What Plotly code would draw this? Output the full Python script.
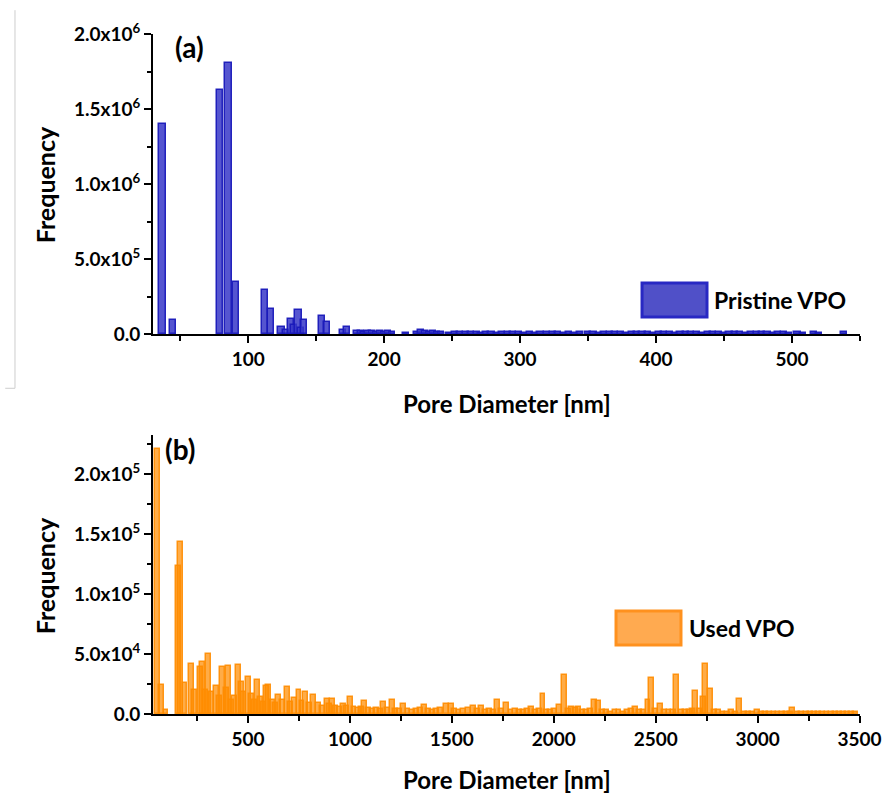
import plotly.graph_objects as go

# ---------------- DATA ----------------
# (a) Pristine VPO : pore diameter [nm] and frequency
pristine_d = [37, 45, 79, 85.5, 91, 112.5, 116.5, 124.5, 128, 131.5, 134, 137, 139, 141,
              154, 158, 170, 173,
              180, 183, 185, 188, 191, 194, 197, 200, 203, 206,
              216, 224, 227, 230, 233, 236, 239, 242,
              248, 252, 256, 260, 264, 268, 271, 275, 279, 283, 287, 291, 295, 299, 303, 307,
              311, 315, 320, 324, 328, 332, 336, 340, 344, 350, 354, 358, 362, 366, 370, 374,
              378, 382, 386, 390, 394, 398, 402, 406, 410, 414, 418, 422, 426, 430, 434, 438,
              442, 446, 450, 454, 458, 462, 466, 470, 474, 478, 482, 486, 490, 494, 498, 504,
              508, 516, 520, 538]
pristine_f = [1.40e6, 9.3e4, 1.625e6, 1.81e6, 3.5e5, 2.93e5, 1.67e5, 4.5e4, 3.0e4, 1.0e5, 6.0e4, 1.6e5, 4.0e4, 9.3e4,
              1.22e5, 8.2e4, 2.5e4, 4.7e4,
              18e3, 22e3, 15e3, 20e3, 17e3, 14e3, 20e3, 16e3, 18e3, 12e3,
              10e3, 15e3, 24e3, 18e3, 14e3, 20e3, 12e3, 16e3,
              10e3, 14e3, 12e3, 15e3, 11e3, 13e3, 9e3, 12e3, 14e3, 10e3, 13e3, 11e3, 15e3, 12e3, 10e3, 13e3,
              9e3, 12e3, 11e3, 14e3, 12e3, 10e3, 13e3, 9e3, 12e3, 11e3, 14e3, 10e3, 12e3, 15e3, 11e3, 13e3,
              10e3, 12e3, 11e3, 14e3, 12e3, 10e3, 13e3, 11e3, 12e3, 9e3, 12e3, 14e3, 11e3, 13e3, 10e3, 12e3,
              11e3, 14e3, 10e3, 12e3, 13e3, 11e3, 10e3, 12e3, 14e3, 11e3, 13e3, 10e3, 12e3, 11e3, 9e3, 12e3,
              10e3, 11e3, 9e3, 16e3]

# (b) Used VPO : pore diameter [nm] and frequency (x10^3)
used_d = [55, 76, 98, 158, 168, 191, 224, 237, 268, 276, 292, 308, 320, 346, 360, 374, 393, 406, 420, 435,
          455, 468, 480, 504, 517, 530, 545, 560, 575, 591, 602, 620, 635, 651, 670, 692, 710, 730, 750, 765,
          782, 800, 823, 845, 865, 888, 900, 913, 930, 950, 970, 985, 1003, 1020, 1040, 1055, 1071, 1090, 1110, 1130,
          1150, 1166, 1185, 1207, 1225, 1245, 1264, 1285, 1305, 1325, 1345, 1365, 1385, 1405, 1425, 1445, 1475, 1497, 1515, 1535,
          1555, 1580, 1604, 1625, 1645, 1665, 1685, 1705, 1725, 1745, 1767, 1790, 1810, 1830, 1850, 1870, 1890, 1910, 1930, 1947,
          1965, 1985, 2005, 2027, 2053, 2070, 2089, 2105, 2122, 2140, 2160, 2180, 2200, 2220, 2240, 2260, 2280, 2300, 2320, 2340,
          2360, 2380, 2400, 2420, 2440, 2462, 2478, 2500, 2522, 2545, 2565, 2585, 2604, 2625, 2645, 2665, 2680, 2695, 2715, 2736,
          2744, 2769, 2790, 2810, 2830, 2850, 2870, 2890, 2912, 2935, 2955, 2975, 3000, 3020, 3040, 3060, 3080, 3100, 3120, 3140,
          3160, 3173, 3195, 3215, 3240, 3260, 3280, 3300, 3320, 3340, 3360, 3380, 3400, 3420, 3440, 3460, 3480]
used_f_k = [221, 24, 3, 123, 143.6, 26, 42, 20, 39, 43.6, 20, 50, 18, 23, 15, 39, 22, 40, 12, 15,
            41, 26.5, 18, 31, 17, 12, 28, 14, 10, 23, 24, 12, 9, 16, 12, 22.5, 10, 13, 20, 11,
            18, 9, 16, 9, 7, 12.5, 8, 12.5, 7, 6, 8, 7, 14.5, 6, 5, 6, 11, 5, 4, 5,
            4, 10, 5, 11.7, 4, 4, 8, 4, 3, 4, 5, 7.5, 4, 3, 4, 5, 8, 8.5, 4, 3,
            4, 5, 6.7, 4, 6.7, 3, 4, 3, 12, 4, 9.4, 3, 4, 3, 3, 4, 6, 3, 4, 16.4,
            3, 3, 4, 7.5, 32.5, 4, 6, 5, 6, 3, 3, 4, 11.7, 11, 3, 3, 2, 3, 3, 2,
            3, 4, 6, 3, 3, 12, 29.7, 4, 8, 3, 3, 3, 32.5, 3, 3, 3, 4, 19.5, 4, 14.5,
            42, 20.5, 3, 3, 2, 2, 3, 2, 12.5, 2, 2, 2, 3, 2, 2, 2, 2, 2, 2, 2,
            2, 4.7, 2, 2, 2, 2, 2, 2, 1.5, 2, 2, 1.5, 2, 1.5, 1.5, 1.5, 1.5]
used_f = [v * 1000 for v in used_f_k]

top_ytick_vals = [0, 5e5, 1e6, 1.5e6, 2e6]
top_ytick_text = ["0.0", "5.0x10<sup>5</sup>", "1.0x10<sup>6</sup>", "1.5x10<sup>6</sup>", "2.0x10<sup>6</sup>"]
bot_ytick_vals = [0, 5e4, 1e5, 1.5e5, 2e5]
bot_ytick_text = ["0.0", "5.0x10<sup>4</sup>", "1.0x10<sup>5</sup>", "1.5x10<sup>5</sup>", "2.0x10<sup>5</sup>"]

# ---------------- FIGURE ----------------
FONT = "Lato"
fig = go.Figure()

fig.add_trace(go.Bar(
    x=pristine_d, y=pristine_f, width=4.5, xaxis="x", yaxis="y",
    marker=dict(color="rgba(55,55,200,0.85)", line=dict(color="rgba(25,25,185,0.95)", width=1.5)),
    showlegend=False))
fig.add_trace(go.Bar(
    x=used_d, y=used_f, width=24, xaxis="x2", yaxis="y2",
    marker=dict(color="rgba(255,140,0,0.72)", line=dict(color="rgba(255,140,0,0.9)", width=1.5)),
    showlegend=False))

tickfont = dict(family=FONT, size=19, color="black", weight="bold")
axis_common = dict(showline=True, linecolor="black", linewidth=2, ticks="outside", ticklen=7,
                   tickwidth=2, tickcolor="black", showgrid=False, zeroline=False, tickfont=tickfont,
                   automargin=False, ticklabeloverflow="allow")

fig.update_layout(
    width=882, height=808,
    margin=dict(l=153, r=22, t=34, b=94),
    paper_bgcolor="white", plot_bgcolor="white",
    barmode="overlay", bargap=0,
    xaxis=dict(domain=[0, 1], anchor="y", range=[30, 550], tickvals=[100, 200, 300, 400, 500],
               minor=dict(ticks="outside", ticklen=5, tickwidth=2, tickcolor="black", dtick=50, tick0=0),
               **axis_common),
    yaxis=dict(domain=[0.5588, 1], anchor="x", range=[0, 2.0e6], tickvals=top_ytick_vals,
               ticktext=top_ytick_text,
               minor=dict(ticks="outside", ticklen=4, tickwidth=2, tickcolor="black", dtick=2.5e5, tick0=0),
               **axis_common),
    xaxis2=dict(domain=[0, 1], anchor="y2", range=[34, 3502],
                tickvals=[500, 1000, 1500, 2000, 2500, 3000, 3500],
                minor=dict(ticks="outside", ticklen=5, tickwidth=2, tickcolor="black", dtick=250, tick0=0),
                **axis_common),
    yaxis2=dict(domain=[0, 0.4103], anchor="x2", range=[0, 232500], tickvals=bot_ytick_vals,
                ticktext=bot_ytick_text,
                minor=dict(ticks="outside", ticklen=4, tickwidth=2, tickcolor="black", dtick=2.5e4, tick0=0),
                **axis_common),
)

title_font = dict(family=FONT, size=24, color="black", weight="bold")
ann = []
# axis titles
ann.append(dict(text="Pore Diameter [nm]", x=0.5, y=0.457, xref="paper", yref="paper",
                showarrow=False, font=title_font, xanchor="center", yanchor="middle"))
ann.append(dict(text="Pore Diameter [nm]", x=0.5, y=-0.0956, xref="paper", yref="paper",
                showarrow=False, font=title_font, xanchor="center", yanchor="middle"))
ann.append(dict(text="Frequency", x=-0.1528, y=0.779, xref="paper", yref="paper", textangle=-90,
                showarrow=False, font=dict(family=FONT, size=25, color="black", weight="bold"),
                xanchor="center", yanchor="middle"))
ann.append(dict(text="Frequency", x=-0.1528, y=0.204, xref="paper", yref="paper", textangle=-90,
                showarrow=False, font=dict(family=FONT, size=25, color="black", weight="bold"),
                xanchor="center", yanchor="middle"))
# panel labels
panel_font = dict(family=FONT, size=28, color="black", weight="bold")
ann.append(dict(text="(a)", x=0.052, y=0.981, xref="paper", yref="paper", showarrow=False,
                font=panel_font, xanchor="center", yanchor="middle"))
ann.append(dict(text="(b)", x=0.038, y=0.39, xref="paper", yref="paper", showarrow=False,
                font=panel_font, xanchor="center", yanchor="middle"))
# legend texts
leg_font = dict(family=FONT, size=23, color="black", weight="bold")
ann.append(dict(text="Pristine VPO", x=0.7907, y=0.6088, xref="paper", yref="paper", showarrow=False,
                font=leg_font, xanchor="left", yanchor="middle"))
ann.append(dict(text="Used VPO", x=0.7553, y=0.1265, xref="paper", yref="paper", showarrow=False,
                font=leg_font, xanchor="left", yanchor="middle"))
fig.update_layout(annotations=ann)

shapes = [
    dict(type="rect", xref="paper", yref="paper", x0=0.6917, x1=0.7836, y0=0.5838, y1=0.6338,
         fillcolor="rgb(80,80,200)", line=dict(color="rgb(40,40,195)", width=3)),
    dict(type="rect", xref="paper", yref="paper", x0=0.6549, x1=0.7468, y0=0.1015, y1=0.1515,
         fillcolor="rgb(255,170,80)", line=dict(color="rgb(255,145,30)", width=3)),
    # faint crop border at left
    dict(type="line", xref="paper", yref="paper", x0=-0.1952, x1=-0.1952, y0=1.035, y1=0.479,
         line=dict(color="rgb(205,205,205)", width=1)),
    dict(type="line", xref="paper", yref="paper", x0=-0.209, x1=-0.1952, y0=0.479, y1=0.479,
         line=dict(color="rgb(205,205,205)", width=1)),
]
fig.update_layout(shapes=shapes)

fig.write_html("out.html")
